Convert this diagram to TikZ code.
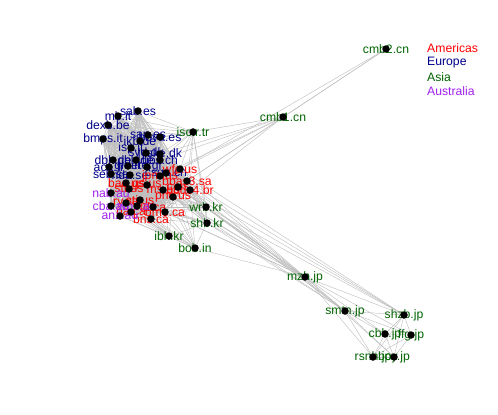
\documentclass[tikz,border=0pt]{standalone}
\usepackage{fontspec}
\setmainfont{Liberation Sans}
\definecolor{amer}{HTML}{FF0000}
\definecolor{euro}{HTML}{00008B}
\definecolor{asia}{HTML}{006400}
\definecolor{aust}{HTML}{A020F0}
\definecolor{edgec}{HTML}{BEBEBE}
\pgfdeclarelayer{edgelayer}
\pgfdeclarelayer{labellayer}
\pgfsetlayers{edgelayer,labellayer,main}
\newcommand\vtx[5]{%
  \node[vdot] (#2) at (#3,#4) {};
  \begin{pgfonlayer}{labellayer}\node[lab,text=#1] (#2-l) at (#2) {#5};\end{pgfonlayer}}
\begin{document}
\begin{tikzpicture}[x=1pt,y=-1pt,
  vdot/.style={circle,fill=black,inner sep=0pt,minimum size=7.5pt},
  lab/.style={inner sep=0pt,font=\fontsize{12.2}{13}\selectfont},
  leg/.style={lab,anchor=west},
  edge/.style={draw=edgec,line width=0.42pt}]
\useasboundingbox (0,0) rectangle (498,415);
% Europe
\vtx{euro}{sab}{138}{111}{sab.es}
\vtx{euro}{mb}{118}{116}{mb.it}
\vtx{euro}{dexb}{108}{125}{dexb.be}
\vtx{euro}{bmps}{103}{139}{bmps.it}
\vtx{euro}{ikb}{140}{141}{ikb.de}
\vtx{euro}{san}{148}{135}{san.es}
\vtx{euro}{bbva}{160}{137}{bbva.es}
\vtx{euro}{isp}{131}{148}{isp.it}
\vtx{euro}{syd}{146}{153}{syd.dk}
\vtx{euro}{jyske}{160}{154}{jyske.dk}
\vtx{euro}{dbk}{113}{160}{dbk.de}
\vtx{euro}{cbk}{136}{160}{cbk.de}
\vtx{euro}{ubs}{160}{160}{ubs.ch}
\vtx{euro}{csgn}{166}{173}{csgn.ch}
\vtx{euro}{aca}{109}{167}{aca.fr}
\vtx{euro}{gle}{128}{166}{gle.fr}
\vtx{euro}{ete}{147}{167}{ete.gr}
\vtx{euro}{seb}{111}{174}{seb.se}
\vtx{euro}{nda}{130}{175}{nda.se}
% Americas
\vtx{amer}{wfc}{180}{169}{wfc.us}
\vtx{amer}{jpm}{160}{176}{jpm.us}
\vtx{amer}{bbas}{187}{181}{bbas3.sa}
\vtx{amer}{bac}{126}{183}{bac.us}
\vtx{amer}{stt}{129}{189}{stt.us}
\vtx{amer}{gs}{147}{185}{gs.us}
\vtx{amer}{ms}{163}{190}{ms.us}
\vtx{amer}{c}{178}{187}{c.us}
\vtx{amer}{bbdc}{190}{190}{bbdc4.br}
\vtx{amer}{sti}{140}{200}{sti.us}
\vtx{amer}{pnc}{173}{197}{pnc.us}
\vtx{amer}{ry}{126}{203}{ry.ca}
\vtx{amer}{td}{153}{207}{td.ca}
\vtx{amer}{bmo}{165}{212}{bmo.ca}
\vtx{amer}{na}{131}{212}{na.ca}
\vtx{amer}{bns}{151}{219}{bns.ca}
% Australia
\vtx{aust}{nab}{111}{193}{nab.au}
\vtx{aust}{cba}{111}{206}{cba.au}
\vtx{aust}{anz}{120}{216}{anz.au}
\vtx{aust}{wbc}{137}{206}{wbc.au}
% Asia
\vtx{asia}{cmbb}{386}{49}{cmb2.cn}
\vtx{asia}{cmba}{283}{117}{cmb1.cn}
\vtx{asia}{isctr}{193}{132}{isctr.tr}
\vtx{asia}{wrb}{206}{207}{wrb.kr}
\vtx{asia}{shb}{207}{223}{shb.kr}
\vtx{asia}{ibk}{169}{236}{ibk.kr}
\vtx{asia}{bob}{195}{248}{bob.in}
\vtx{asia}{mzh}{305}{277}{mzh.jp}
\vtx{asia}{smtn}{345}{311}{smtn.jp}
\vtx{asia}{shzb}{404}{315}{shzb.jp}
\vtx{asia}{cbb}{385}{334}{cbb.jp}
\vtx{asia}{ffg}{411}{335}{ffg.jp}
\vtx{asia}{rsnh}{373}{357}{rsnh.jp}
\vtx{asia}{boy}{394}{357}{boy.jp}
% legend
\node[leg,text=amer] (legA) at (427,48) {Americas};
\node[leg,text=euro] (legE) at (427,62.5) {Europe};
\node[leg,text=asia] (legS) at (427,77) {Asia};
\node[leg,text=aust] (legU) at (427,91.5) {Australia};
% edges
\begin{pgfonlayer}{edgelayer}
\def\clus{sab,mb,dexb,bmps,ikb,san,bbva,isp,syd,jyske,dbk,cbk,ubs,csgn,aca,gle,ete,seb,nda,wfc,jpm,bbas,bac,stt,gs,ms,c,bbdc,sti,pnc,ry,td,bmo,na,bns,nab,cba,anz,wbc}
\foreach \a [count=\i] in \clus {
  \foreach \b [count=\j] in \clus {
    \ifnum\j>\i \draw[edge] (\a) -- (\b); \fi
  }
}
\def\jp{mzh,smtn,shzb,cbb,ffg,rsnh,boy}
\foreach \a [count=\i] in \jp {
  \foreach \b [count=\j] in \jp {
    \ifnum\j>\i \draw[edge] (\a) -- (\b); \fi
  }
}
\foreach \a in {sab,mb,san,bbva,ikb,jyske,ubs,wfc,csgn,bbdc,dexb,isp,shb,wrb,bbas}
  \draw[edge] (isctr) -- (\a);
\foreach \a in {wfc,bbas,csgn,ubs,jyske,bbdc,isctr}
  \draw[edge] (cmba) -- (\a);
\foreach \a in {cmba,wfc,bbas}
  \draw[edge] (cmbb) -- (\a);
\foreach \a in {wfc,bbas,bbdc,c,pnc,ms,jpm,gs,td,bmo,bns,ubs,csgn,sti,stt,shb}
  \draw[edge] (wrb) -- (\a);
\foreach \a in {wfc,bbas,bbdc,c,pnc,ms,jpm,td,bmo,bns,sti,wbc,ibk,bob}
  \draw[edge] (shb) -- (\a);
\foreach \a in {nab,cba,anz,wbc,bns,td,sti,ry,bmo,na,pnc,bob}
  \draw[edge] (ibk) -- (\a);
\foreach \a in {bns,bmo,td,anz,wbc,pnc,ms,c,bbdc,na}
  \draw[edge] (bob) -- (\a);
\foreach \a in {wfc,bbdc,c,pnc,bmo,shb,wrb,bob,jpm,ms,bbas,td}
  \draw[edge] (mzh) -- (\a);
\foreach \a in {bbdc,c,shb,pnc,wrb}
  \draw[edge] (smtn) -- (\a);
\foreach \a in {wfc,bbdc,wrb,bbas}
  \draw[edge] (shzb) -- (\a);
\end{pgfonlayer}
\end{tikzpicture}
\end{document}
